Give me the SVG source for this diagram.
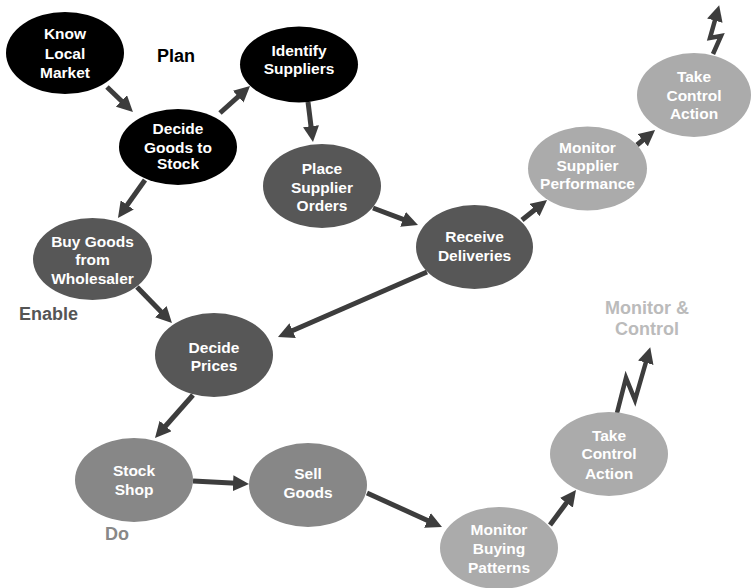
<svg xmlns="http://www.w3.org/2000/svg" width="751" height="588" viewBox="0 0 751 588">
<style>
.n text{font-family:"Liberation Sans",Arial,sans-serif;font-weight:bold;font-size:15.5px;fill:#fff;text-anchor:middle}
.k{fill:#000}
.d{fill:#575757}
.m{fill:#878787}
.l{fill:#ababab}
.c line,.c polyline{stroke:#3d3d3d;stroke-width:5;fill:none;marker-end:url(#ah)}
.c polyline{stroke-width:4.5;stroke-linejoin:miter}
.lbl{font-family:"Liberation Sans",Arial,sans-serif;font-weight:bold;font-size:18px}
</style>
<defs>
<marker id="ah" markerUnits="userSpaceOnUse" markerWidth="16" markerHeight="16" viewBox="0 0 16 16" refX="8" refY="8" orient="auto">
<path d="M0,0 L16,8 L0,16 z" fill="#3d3d3d"/>
</marker>
</defs>
<rect width="751" height="588" fill="#fff"/>
<g class="c" id="connectors">
<line x1="107" y1="87" x2="127.2" y2="106.5"/>
<line x1="220" y1="113" x2="244.1" y2="91.3"/>
<line x1="308" y1="102" x2="312" y2="134.1"/>
<line x1="145" y1="180" x2="122.6" y2="211.5"/>
<line x1="373" y1="208" x2="410.5" y2="222.2"/>
<line x1="522" y1="220" x2="540.8" y2="205"/>
<line x1="637" y1="145" x2="648.9" y2="135.1"/>
<line x1="137" y1="287" x2="166.4" y2="317.3"/>
<line x1="427" y1="272" x2="285.3" y2="333.8"/>
<line x1="193" y1="395" x2="160.3" y2="432"/>
<line x1="193" y1="481" x2="241" y2="483.6"/>
<line x1="367" y1="493" x2="434.7" y2="523.7"/>
<line x1="550" y1="525" x2="571.2" y2="496.4"/>
<polyline points="713,54 721,36 710,38 717,13"/>
<polyline points="617,413 626,378 635,400 648,355"/>
</g>
<g class="n" id="know-local-market"><ellipse class="k" cx="65" cy="53" rx="59" ry="41"/><text x="65" y="38.5">Know</text><text x="65" y="58.5">Local</text><text x="65" y="77.5">Market</text></g>
<g class="n" id="decide-goods"><ellipse class="k" cx="178" cy="147" rx="59" ry="38"/><text x="178" y="133.5">Decide</text><text x="178" y="152.5">Goods to</text><text x="178" y="168.5">Stock</text></g>
<g class="n" id="identify-suppliers"><ellipse class="k" cx="299" cy="64.5" rx="59" ry="38"/><text x="299" y="55.5">Identify</text><text x="299" y="73.5">Suppliers</text></g>
<g class="n" id="place-supplier-orders"><ellipse class="d" cx="322" cy="186" rx="59" ry="42"/><text x="322" y="173.5">Place</text><text x="322" y="192.5">Supplier</text><text x="322" y="210.5">Orders</text></g>
<g class="n" id="monitor-supplier-performance"><ellipse class="l" cx="587.5" cy="168.5" rx="59.5" ry="42"/><text x="587.5" y="152.5">Monitor</text><text x="587.5" y="170.5">Supplier</text><text x="587.5" y="188.5">Performance</text></g>
<g class="n" id="take-control-action-top"><ellipse class="l" cx="694" cy="95" rx="57" ry="42"/><text x="694" y="81.5">Take</text><text x="694" y="100.5">Control</text><text x="694" y="118.5">Action</text></g>
<g class="n" id="buy-goods"><ellipse class="d" cx="92.5" cy="259" rx="59.5" ry="41"/><text x="92.5" y="246.5">Buy Goods</text><text x="92.5" y="265">from</text><text x="92.5" y="284">Wholesaler</text></g>
<g class="n" id="decide-prices"><ellipse class="d" cx="214" cy="355" rx="59" ry="42"/><text x="214" y="352.5">Decide</text><text x="214" y="370.5">Prices</text></g>
<g class="n" id="receive-deliveries"><ellipse class="d" cx="474.5" cy="247" rx="58.5" ry="42"/><text x="474.5" y="241.5">Receive</text><text x="474.5" y="260.5">Deliveries</text></g>
<g class="n" id="stock-shop"><ellipse class="m" cx="134" cy="480" rx="59" ry="42"/><text x="134" y="475.5">Stock</text><text x="134" y="494.5">Shop</text></g>
<g class="n" id="sell-goods"><ellipse class="m" cx="308" cy="485" rx="59" ry="42"/><text x="308" y="478.5">Sell</text><text x="308" y="497.5">Goods</text></g>
<g class="n" id="monitor-buying-patterns"><ellipse class="l" cx="499" cy="548" rx="59" ry="41"/><text x="499" y="534.5">Monitor</text><text x="499" y="553.5">Buying</text><text x="499" y="572.5">Patterns</text></g>
<g class="n" id="take-control-action-bottom"><ellipse class="l" cx="609" cy="454" rx="59" ry="42"/><text x="609" y="440.5">Take</text><text x="609" y="459">Control</text><text x="609" y="478.5">Action</text></g>
<g id="labels">
<text class="lbl" x="157" y="61.5" fill="#000">Plan</text>
<text class="lbl" x="19" y="319.5" fill="#555">Enable</text>
<text class="lbl" x="105" y="540" fill="#888">Do</text>
<text class="lbl" x="647" y="313.5" fill="#bbb" text-anchor="middle">Monitor &amp;</text>
<text class="lbl" x="647" y="334.5" fill="#bbb" text-anchor="middle">Control</text>
</g>
</svg>
